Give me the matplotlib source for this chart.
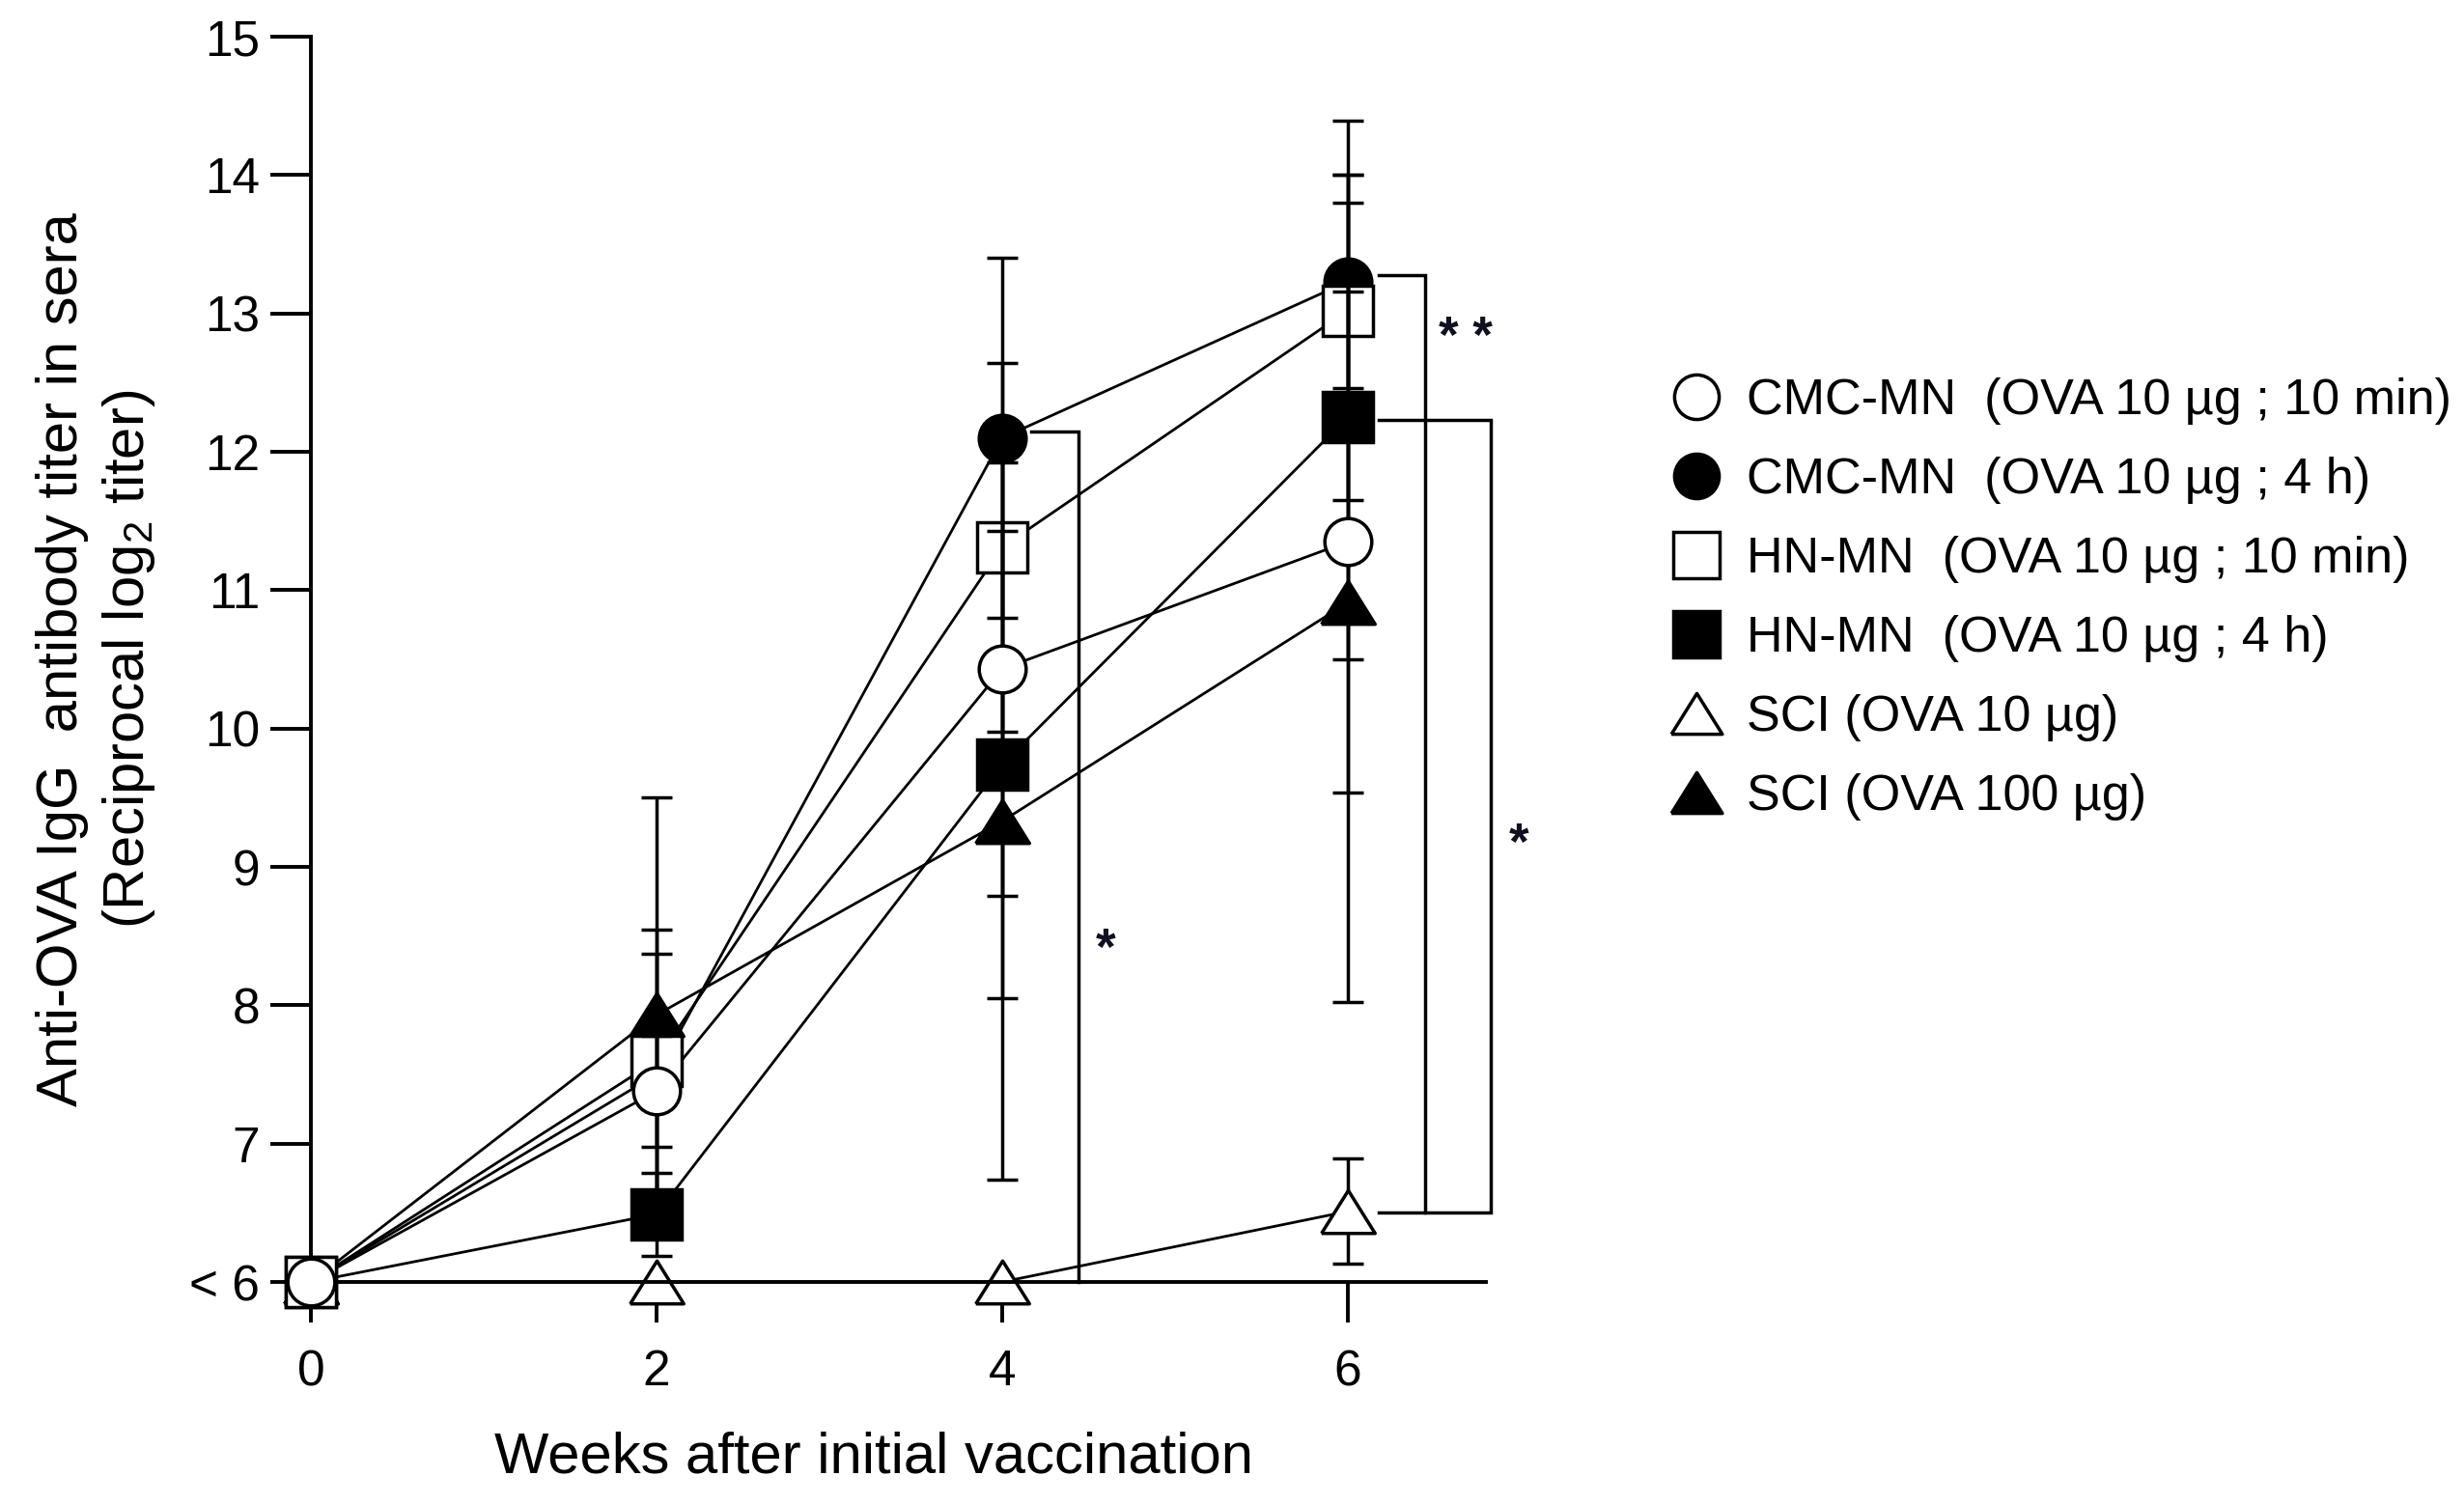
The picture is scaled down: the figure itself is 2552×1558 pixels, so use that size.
import numpy as np
import matplotlib
matplotlib.use("Agg")
import matplotlib.pyplot as plt
from matplotlib.lines import Line2D

plt.rcParams['font.family'] = ['Liberation Sans', 'DejaVu Sans']
plt.rcParams['mathtext.fontset'] = 'custom'
plt.rcParams['mathtext.rm'] = 'Liberation Sans'
plt.rcParams['mathtext.it'] = 'Liberation Sans:italic'
plt.rcParams['mathtext.default'] = 'regular'

# ---------------- data ----------------
weeks = [0, 2, 4, 6]
labels = [
    "CMC-MN  (OVA 10 \u00b5g ; 10 min)",
    "CMC-MN  (OVA 10 \u00b5g ; 4 h)",
    "HN-MN  (OVA 10 \u00b5g ; 10 min)",
    "HN-MN  (OVA 10 \u00b5g ; 4 h)",
    "SCI (OVA 10 \u00b5g)",
    "SCI (OVA 100 \u00b5g)",
]
cmc_10min_mean = [6.0, 7.38, 10.43, 11.35]
cmc_10min_sd = [0.0, 0.40, 1.64, 1.81]
cmc_4h_mean = [6.0, 7.50, 12.10, 13.23]
cmc_4h_sd = [0.0, 0.87, 1.30, 0.77]
hn_10min_mean = [6.0, 7.60, 11.31, 13.02]
hn_10min_sd = [0.0, 0.95, 1.33, 1.37]
hn_4h_mean = [6.0, 6.49, 9.74, 12.25]
hn_4h_sd = [0.0, 0.30, 1.69, 1.75]
sci_10_mean = [6.0, 6.0, 6.0, 6.51]
sci_10_sd = [0.0, 0.0, 0.0, 0.38]
sci_100_mean = [6.0, 7.93, 9.33, 10.91]
sci_100_sd = [0.0, 1.57, 2.59, 2.89]

yticks = [6, 7, 8, 9, 10, 11, 12, 13, 14, 15]
yticklabels = ["< 6", "7", "8", "9", "10", "11", "12", "13", "14", "15"]
xticks = [0, 2, 4, 6]

# significance brackets (weeks, titer)
br1_x = [4.17, 4.44, 4.44]
br1_y = [12.15, 12.15, 6.0]
br2_x = [6.18, 6.45, 6.45, 6.18]
br2_y = [13.28, 13.28, 6.50, 6.50]
br3_x = [6.18, 6.83, 6.83, 6.45]
br3_y = [12.23, 12.23, 6.50, 6.50]
stars = [("*", 4.60, 8.51), ("* *", 6.68, 12.93), ("*", 6.99, 9.27)]

# ---------------- figure ----------------
fig = plt.figure(figsize=(25.52, 15.58), dpi=100)
ax = fig.add_axes([322/2552, 1-1328/1558, (1539-322)/2552, (1328-38)/1558])
ax.set_xlim(0, 6.8)
ax.set_ylim(6, 15)

tri_up = [(-0.5, -0.4), (0.5, -0.4), (0.0, 0.4), (-0.5, -0.4)]

series = [
    # mean, sd, marker, face, ms, marker zorder, err zorder
    (cmc_10min_mean, cmc_10min_sd, 'o', 'white', 35, 3.1, 2.6),
    (cmc_4h_mean, cmc_4h_sd, 'o', 'black', 35, 2.35, 2.6),
    (hn_10min_mean, hn_10min_sd, 's', 'white', 37, 2.4, 2.6),
    (hn_4h_mean, hn_4h_sd, 's', 'black', 37, 2.3, 2.6),
    (sci_10_mean, sci_10_sd, tri_up, 'white', 40, 2.2, 2.15),
    (sci_100_mean, sci_100_sd, tri_up, 'black', 40, 2.1, 2.6),
]

LW = 2.0
for mean, sd, mk, fc, ms, mz, ez in series:
    ax.plot(weeks, mean, color='black', lw=LW, zorder=2, clip_on=False,
            solid_joinstyle='miter')
    ax.errorbar(weeks, mean, yerr=sd, fmt='none', ecolor='black',
                elinewidth=2.5, capsize=11.5, capthick=2.5, zorder=ez,
                clip_on=False)
    ax.plot(weeks, mean, linestyle='none', marker=mk, markersize=ms,
            markerfacecolor=fc, markeredgecolor='black', markeredgewidth=2.5,
            zorder=mz, clip_on=False)

for bx, by in [(br1_x, br1_y), (br2_x, br2_y), (br3_x, br3_y)]:
    ax.plot(bx, by, color='black', lw=2.5, zorder=2, clip_on=False,
            solid_joinstyle='miter')

FS_STAR = 38
for s, sx, sy in stars:
    ax.annotate(s, xy=(sx, sy), xytext=(0, -0.58*FS_STAR), textcoords='offset points',
                ha='center', va='baseline', fontsize=FS_STAR, fontweight='bold',
                color='#101020', annotation_clip=False)

# axes styling
for side in ['top', 'right']:
    ax.spines[side].set_visible(False)
ax.spines['left'].set_linewidth(2.8)
ax.spines['bottom'].set_linewidth(2.8)
ax.set_yticks(yticks)
ax.set_yticklabels(yticklabels)
ax.set_xticks(xticks)
ax.tick_params(axis='both', direction='out', length=30, width=2.8, labelsize=37)
ax.tick_params(axis='y', pad=8)
ax.tick_params(axis='x', pad=20)

fig.text(905/2552, 1-1510/1558, "Weeks after initial vaccination",
         ha='center', va='center', fontsize=43)
fig.text(100/2552, 1-683/1558,
         "Anti-OVA IgG  antibody titer in sera\n(Reciprocal log$_2$ titer)",
         ha='center', va='center', rotation=90, fontsize=43,
         multialignment='center', linespacing=1.25)

# legend
handles = []
for mean, sd, mk, fc, ms, mz, ez in series:
    handles.append(Line2D([], [], linestyle='none', marker=mk, markersize=ms*0.95,
                          markerfacecolor=fc, markeredgecolor='black',
                          markeredgewidth=2.5))
fig.legend(handles, labels, loc='upper left',
           bbox_to_anchor=(1731/2552, 1-391/1558), bbox_transform=fig.transFigure,
           frameon=False, borderpad=0, borderaxespad=0, handlelength=1.0,
           handletextpad=0.5, labelspacing=0.635, fontsize=37.5)

fig.savefig("out.png", dpi=100)
